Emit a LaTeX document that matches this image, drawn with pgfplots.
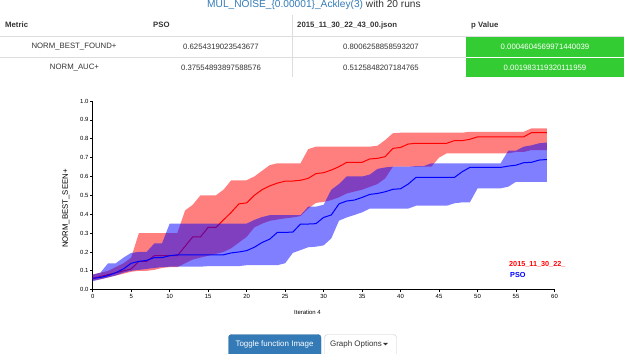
\documentclass[border=0pt]{standalone}
\usepackage{fontspec}
\setmainfont{Liberation Sans}
\usepackage{pgfplots}
\usepackage{pgfplotstable}
\pgfplotsset{compat=1.18}
\usepgfplotslibrary{fillbetween}

\definecolor{bsblue}{HTML}{337AB7}
\definecolor{bsborder}{HTML}{2E6DA4}
\definecolor{txt}{HTML}{333333}
\definecolor{rule}{HTML}{DDDDDD}
\definecolor{pgreen}{RGB}{51,204,51}

% x = iteration, r* = 2015_11_30_22 run, b* = PSO (mean, lower, upper)
\pgfplotstableread{
x  rm    rl    rh    bm    bl    bh
0  0.060 0.050 0.080 0.060 0.045 0.080
1  0.070 0.055 0.090 0.065 0.055 0.090
2  0.080 0.065 0.100 0.075 0.065 0.140
3  0.090 0.075 0.120 0.090 0.075 0.140
4  0.100 0.085 0.140 0.110 0.090 0.170
5  0.110 0.095 0.170 0.140 0.100 0.195
6  0.150 0.100 0.300 0.150 0.105 0.200
7  0.150 0.100 0.300 0.155 0.110 0.200
8  0.180 0.105 0.300 0.170 0.115 0.245
9  0.180 0.115 0.300 0.170 0.120 0.245
10 0.180 0.120 0.300 0.180 0.122 0.350
11 0.180 0.120 0.300 0.185 0.122 0.350
12 0.230 0.140 0.420 0.185 0.122 0.350
13 0.280 0.160 0.450 0.185 0.122 0.350
14 0.280 0.170 0.500 0.185 0.122 0.350
15 0.330 0.180 0.500 0.185 0.125 0.350
16 0.330 0.190 0.500 0.185 0.125 0.350
17 0.370 0.200 0.530 0.185 0.125 0.350
18 0.410 0.220 0.580 0.195 0.125 0.350
19 0.455 0.250 0.580 0.200 0.125 0.350
20 0.460 0.280 0.580 0.207 0.130 0.350
21 0.500 0.330 0.600 0.225 0.130 0.370
22 0.530 0.350 0.630 0.250 0.130 0.385
23 0.550 0.365 0.660 0.268 0.130 0.395
24 0.565 0.372 0.670 0.304 0.130 0.395
25 0.575 0.378 0.670 0.304 0.140 0.395
26 0.576 0.383 0.670 0.305 0.195 0.395
27 0.580 0.390 0.670 0.348 0.210 0.395
28 0.590 0.430 0.745 0.348 0.225 0.440
29 0.615 0.460 0.758 0.350 0.228 0.440
30 0.620 0.465 0.758 0.383 0.235 0.450
31 0.634 0.475 0.758 0.396 0.272 0.530
32 0.652 0.490 0.758 0.455 0.366 0.560
33 0.675 0.510 0.758 0.470 0.383 0.600
34 0.675 0.520 0.758 0.475 0.396 0.600
35 0.675 0.530 0.758 0.489 0.410 0.600
36 0.693 0.545 0.758 0.505 0.430 0.610
37 0.696 0.560 0.763 0.510 0.430 0.640
38 0.705 0.590 0.793 0.519 0.430 0.648
39 0.749 0.652 0.829 0.532 0.430 0.652
40 0.754 0.652 0.832 0.535 0.430 0.652
41 0.772 0.652 0.832 0.560 0.430 0.652
42 0.776 0.652 0.832 0.595 0.445 0.655
43 0.776 0.652 0.832 0.595 0.445 0.655
44 0.776 0.652 0.832 0.595 0.445 0.670
45 0.776 0.700 0.832 0.595 0.445 0.670
46 0.776 0.723 0.832 0.595 0.445 0.670
47 0.790 0.723 0.832 0.595 0.458 0.670
48 0.790 0.723 0.832 0.625 0.463 0.670
49 0.797 0.723 0.837 0.648 0.463 0.670
50 0.810 0.723 0.837 0.648 0.537 0.670
51 0.810 0.723 0.837 0.648 0.537 0.670
52 0.810 0.723 0.837 0.648 0.537 0.670
53 0.810 0.723 0.837 0.648 0.537 0.670
54 0.810 0.723 0.837 0.655 0.546 0.737
55 0.810 0.730 0.837 0.660 0.572 0.737
56 0.810 0.730 0.837 0.673 0.572 0.758
57 0.832 0.740 0.855 0.675 0.572 0.765
58 0.832 0.740 0.855 0.687 0.572 0.776
59 0.832 0.740 0.855 0.690 0.572 0.780
}\runs

\newcommand{\fs}[1]{\fontsize{#1}{#1}\selectfont}

\begin{document}
\begin{tikzpicture}
\begin{scope}[x=1bp,y=-1bp]
  % title
  \node[anchor=west, inner sep=0, text=txt] at (207,5)
    {\fs{10.2}\textcolor{bsblue}{MUL\_NOISE\_\{0.00001\}\_Ackley(3)} with 20 runs};

  % table
  \fill[pgreen] (466,37) rectangle (624,57);
  \fill[pgreen] (466,58) rectangle (624,77);
  \draw[rule, line width=1bp] (0,36.5) -- (624,36.5);
  \draw[rule, line width=1bp] (0,57.5) -- (466,57.5);
  \draw[rule, line width=1bp] (292.7,15) -- (292.7,77);

  \begin{scope}[every node/.style={inner sep=0, text=txt, font=\fs{7.8}}]
    \node[anchor=west] at (5,25)   {\bfseries Metric};
    \node[anchor=west] at (153,25) {\bfseries PSO};
    \node[anchor=west] at (297,25) {\bfseries 2015\_11\_30\_22\_43\_00.json};
    \node[anchor=west] at (471,25) {\bfseries p Value};

    \node at (74,47)  {NORM\_BEST\_FOUND+};
    \node at (221,47) {0.6254319023543677};
    \node at (381,47) {0.8006258858593207};
    \node[text=white] at (545,47) {0.0004604569971440039};

    \node at (74.5,68) {NORM\_AUC+};
    \node at (221,68)  {0.37554893897588576};
    \node at (381,68)  {0.5125848207184765};
    \node[text=white] at (545,68) {0.001983119320111959};
  \end{scope}

  % axis titles and legend
  \node[rotate=90, inner sep=0, font=\fs{7.8}] at (66,208.6) {NORM\_BEST\_SEEN+};
  \node[inner sep=0, font=\fs{6}] at (307.5,312.5) {Iteration 4};
  \node[anchor=west, inner sep=0, text=red, font=\fs{7.3}\bfseries] at (509,264) {2015\_11\_30\_22\_};
  \node[anchor=west, inner sep=0, text=blue, font=\fs{7.3}\bfseries] at (510,274.5) {PSO};

  % buttons (cut off by the bottom edge)
  \filldraw[fill=bsblue, draw=bsborder, rounded corners=3bp] (228.5,354) |- (321,334.5) -- (321,354);
  \node[text=white, inner sep=0, font=\fs{8}] at (274.5,344) {Toggle function Image};
  \filldraw[fill=white, draw=black!20, rounded corners=3bp] (324.5,354) |- (396.5,334.5) -- (396.5,354);
  \node[text=txt, inner sep=0, font=\fs{8}] at (356,344) {Graph Options};
  \fill[txt] (383,342.8) -- (388,342.8) -- (385.5,345.3) -- cycle;
\end{scope}

\begin{axis}[
  at={(92.7bp,-289.7bp)}, anchor=south west,
  scale only axis, width=461.8bp, height=188.7bp,
  set layers,
  xmin=0, xmax=60, ymin=0, ymax=1,
  axis x line*=bottom, axis y line*=left,
  x axis line style={-}, y axis line style={-},
  axis line style={black, line width=0.9bp},
  tick align=outside, major tick length=2.5bp,
  tick style={black, line width=0.7bp},
  xtick={0,5,10,15,20,25,30,35,40,45,50,55,60},
  ytick={0,0.1,0.2,0.3,0.4,0.5,0.6,0.7,0.8,0.9,1.0},
  tick label style={font=\fs{6}, inner sep=1.5bp},
  /pgf/number format/assume math mode=true,
  y tick label style={/pgf/number format/fixed, /pgf/number format/fixed zerofill, /pgf/number format/precision=1},
  clip=false,
]
\addplot[draw=none, name path=rhi] table[x=x, y=rh] {\runs};
\addplot[draw=none, name path=rlo] table[x=x, y=rl] {\runs};
\addplot[fill=red, fill opacity=0.5] fill between[of=rhi and rlo, on layer=main];
\addplot[red, line width=1bp] table[x=x, y=rm] {\runs};

\addplot[draw=none, name path=bhi] table[x=x, y=bh] {\runs};
\addplot[draw=none, name path=blo] table[x=x, y=bl] {\runs};
\addplot[fill=blue, fill opacity=0.5] fill between[of=bhi and blo, on layer=main];
\addplot[blue, line width=1bp] table[x=x, y=bm] {\runs};
\end{axis}

\pgfresetboundingbox
\path[use as bounding box] (0,0) rectangle (624bp,-354bp);
\end{tikzpicture}
\end{document}
